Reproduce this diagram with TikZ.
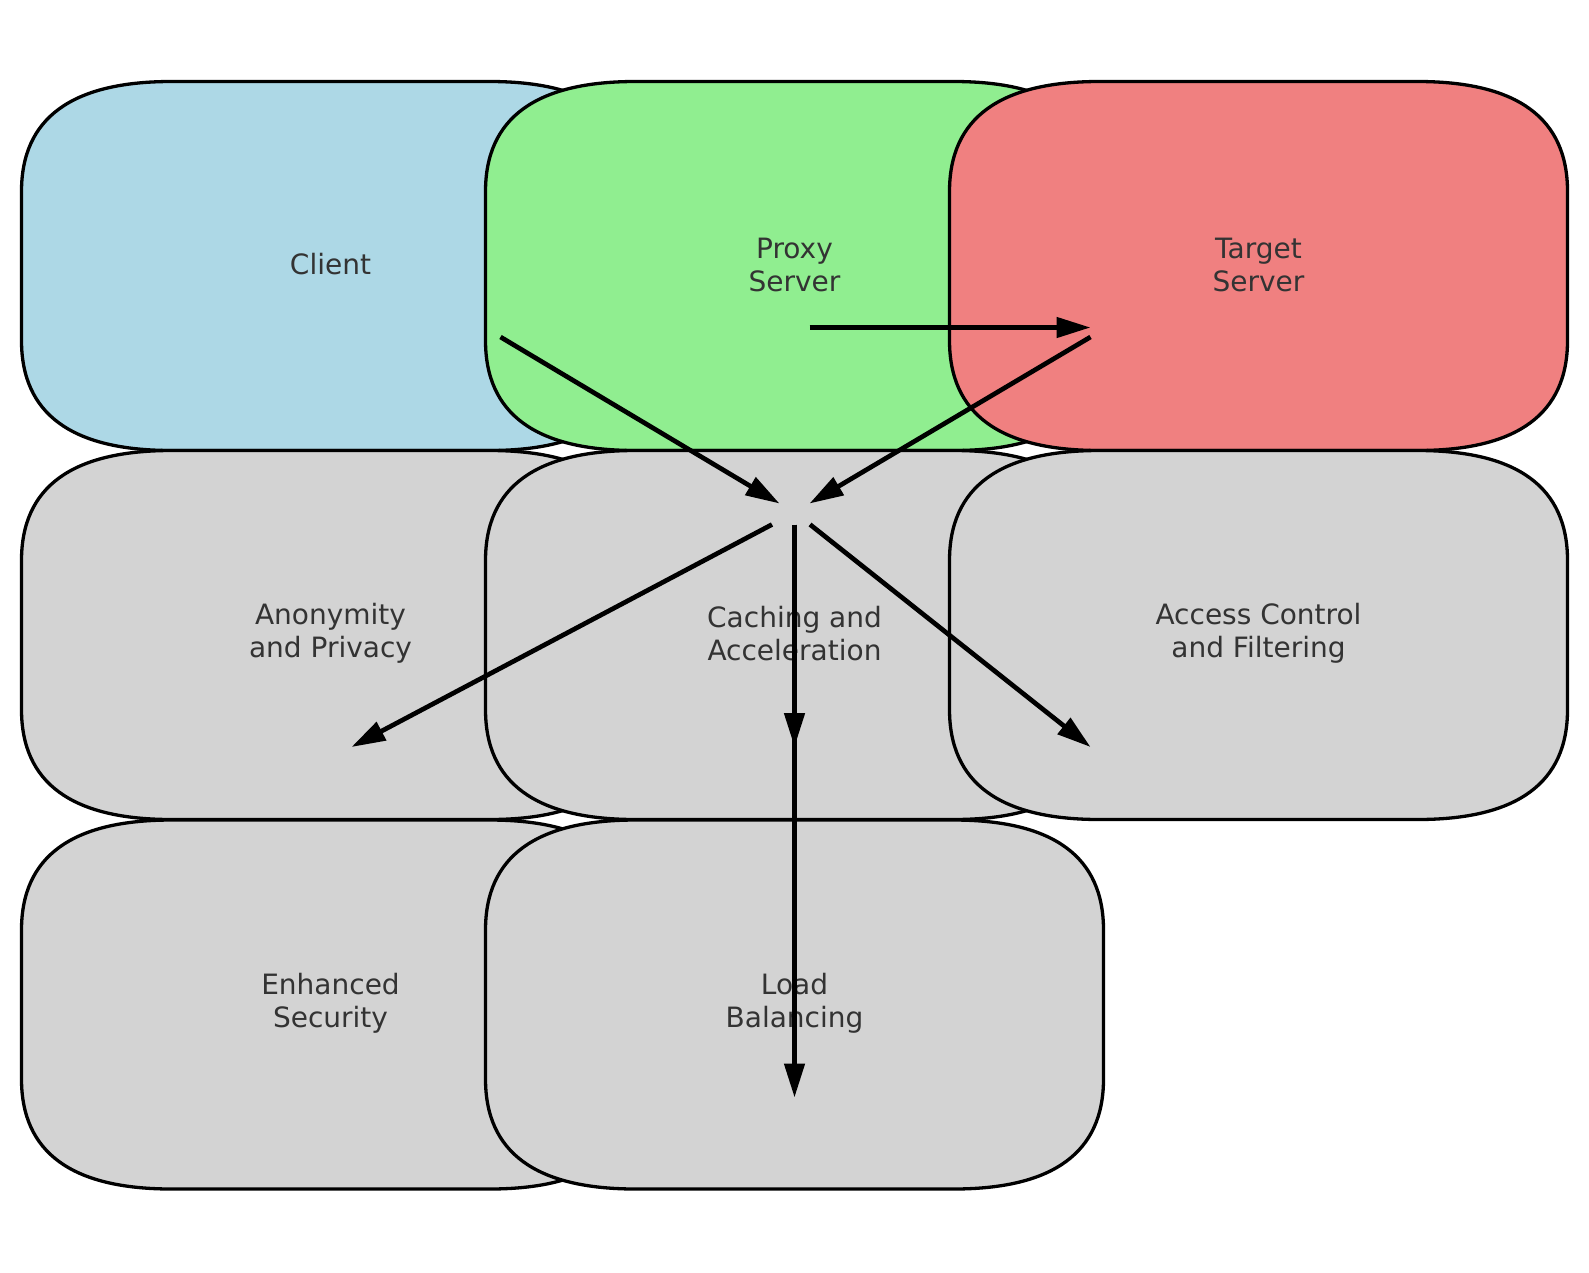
\documentclass[tikz,border=0pt]{standalone}
\usepackage{fontspec}
\setmainfont{DejaVu Sans}
\usetikzlibrary{arrows.meta}
\definecolor{cclient}{HTML}{ADD8E6}
\definecolor{cproxy}{HTML}{90EE90}
\definecolor{ctarget}{HTML}{F08080}
\definecolor{cfeat}{HTML}{D3D3D3}
\definecolor{ctext}{HTML}{333333}
\tikzset{
  boxline/.style={draw=black, line width=3.3pt, line join=round},
  lbl/.style={text=ctext, align=center, inner sep=0pt, font=\fontsize{28}{33}\selectfont},
  conn/.style={draw=black, line width=4.7pt, -{Triangle[length=34pt,width=20pt]}}
}
% #1 = left, #2 = top, #3 = fill colour; corners are quadratic curves (rx=150, ry=110)
\newcommand{\pxbox}[3]{%
  \filldraw[boxline, fill=#3] ({#1+309},#2) -- ({#1+618-150},#2)
    .. controls ({#1+618-50},#2) and ({#1+618},{#2+110/3}) .. ({#1+618},{#2+110})
    -- ({#1+618},{#2+369-110})
    .. controls ({#1+618},{#2+369-110/3}) and ({#1+618-50},{#2+369}) .. ({#1+618-150},{#2+369})
    -- ({#1+150},{#2+369})
    .. controls ({#1+50},{#2+369}) and (#1,{#2+369-110/3}) .. (#1,{#2+369-110})
    -- (#1,{#2+110})
    .. controls (#1,{#2+110/3}) and ({#1+50},#2) .. ({#1+150},#2) -- cycle;
}
\begin{document}
\begin{tikzpicture}[x=1pt,y=-1pt]
\useasboundingbox[fill=white] (0,0) rectangle (1589,1272);
% boxes
\pxbox{21.5}{81.5}{cclient}
\pxbox{485.5}{81.5}{cproxy}
\pxbox{949.5}{81.5}{ctarget}
\pxbox{21.5}{450.5}{cfeat}
\pxbox{485.5}{450.5}{cfeat}
\pxbox{949.5}{450.5}{cfeat}
\pxbox{21.5}{820}{cfeat}
\pxbox{485.5}{820}{cfeat}
% labels
\node[lbl] (client) at (330.5,264.5) {Client};
\node[lbl] (proxy) at (794.5,264.5) {Proxy\\Server};
\node[lbl] (target) at (1258.5,264.5) {Target\\Server};
\node[lbl] (anon) at (330.5,633.5) {Anonymity\\and Privacy};
\node[lbl] (cache) at (794.5,633.5) {Caching and\\Acceleration};
\node[lbl] (access) at (1258.5,633.5) {Access Control\\and Filtering};
\node[lbl] (security) at (330.5,1003) {Enhanced\\Security};
\node[lbl] (load) at (794.5,1003) {Load\\Balancing};
% connector end points
\coordinate (a1s) at (500.5,337);
\coordinate (a1e) at (779.5,503.5);
\coordinate (a2s) at (809.5,327.5);
\coordinate (a2e) at (1090.5,327.5);
\coordinate (a3s) at (1090.5,337);
\coordinate (a3e) at (809.5,503.5);
\coordinate (a4s) at (772,524.5);
\coordinate (a4e) at (351.5,747);
\coordinate (a5s) at (794.5,524.5);
\coordinate (a5e) at (794.5,747);
\coordinate (a6e) at (794.5,1097.5);
\coordinate (a7s) at (810,524.5);
\coordinate (a7e) at (1090.5,747);
% connectors
\draw[conn] (a1s) -- (a1e);
\draw[conn] (a2s) -- (a2e);
\draw[conn] (a3s) -- (a3e);
\draw[conn] (a4s) -- (a4e);
\draw[conn] (a5s) -- (a6e);
\draw[conn] (a5s) -- (a5e);
\draw[conn] (a7s) -- (a7e);
\end{tikzpicture}
\end{document}
